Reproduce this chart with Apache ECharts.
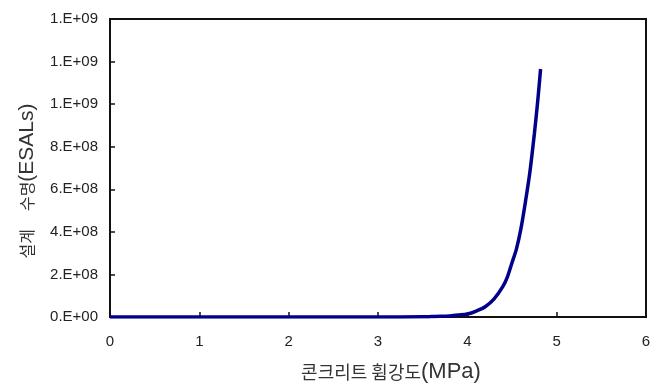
<!DOCTYPE html>
<html>
<head>
<meta charset="utf-8">
<script src="https://cdn.jsdelivr.net/npm/echarts@6/dist/echarts.min.js"></script>
<style>
  html, body { margin: 0; padding: 0; background: #fff; }
  #chart { width: 664px; height: 388px; }
</style>
</head>
<body>
<div id="chart"></div>
<script>
// Flexural strength of concrete (MPa)
const strength = [0, 0.5, 1, 1.5, 2, 2.5, 3, 3.5, 3.6, 3.7, 3.8, 3.9, 4.0, 4.1, 4.2, 4.3, 4.4, 4.45, 4.5, 4.55, 4.6, 4.65, 4.7, 4.75, 4.78, 4.8, 4.82];
// Design life (ESALs)
const designLife = [0, 0, 0, 0, 0, 0, 0, 1e6, 2e6, 3e6, 5e6, 9e6, 1.4e7, 2.8e7, 4.8e7, 8.5e7, 1.45e8, 1.9e8, 2.55e8, 3.2e8, 4.15e8, 5.4e8, 6.8e8, 8.6e8, 9.8e8, 1.07e9, 1.165e9];
// Y tick labels, in 0.E+00 style, one per 2E+08 step
const yTickLabels = ['0.E+00', '2.E+08', '4.E+08', '6.E+08', '8.E+08', '1.E+09', '1.E+09', '1.E+09'];
const xTickLabels = ['0', '1', '2', '3', '4', '5', '6'];

const chart = echarts.init(document.getElementById('chart'));
const latin = 'Liberation Sans, Arial, sans-serif';
const hangul = 'Noto Sans CJK KR, sans-serif';

chart.setOption({
  animation: false,
  grid: {
    left: 110, right: 18, top: 19, bottom: 70,
    show: true, borderColor: '#111', borderWidth: 2, backgroundColor: '#fff'
  },
  xAxis: {
    type: 'value', min: 0, max: 6, interval: 1,
    name: '{k|콘크리트 휨강도}{l|(MPa)}',
    nameLocation: 'middle', nameGap: 43,
    nameTextStyle: {
      color: '#333', padding: [0, 0, 0, 26],
      rich: {
        k: { fontSize: 18, lineHeight: 24, verticalAlign: 'middle', fontFamily: hangul, color: '#333' },
        l: { fontSize: 22, lineHeight: 24, verticalAlign: 'middle', fontFamily: latin, color: '#333' }
      }
    },
    axisLine: { show: true, lineStyle: { color: '#111', width: 2 } },
    axisTick: { show: true, inside: true, length: 5, lineStyle: { color: '#111', width: 1.5 } },
    axisLabel: {
      margin: 17, fontSize: 15, color: '#222', fontFamily: latin,
      formatter: v => xTickLabels[Math.round(v)]
    },
    splitLine: { show: false }
  },
  yAxis: {
    type: 'value', min: 0, max: 1.4e9, interval: 2e8,
    name: '{k|설계}{sp| }{k|수명}{l|(ESALs)}',
    nameLocation: 'middle', nameGap: 71,
    nameTextStyle: {
      color: '#333', padding: [0, 26, 0, 0],
      rich: {
        k: { fontSize: 16, lineHeight: 24, verticalAlign: 'middle', fontFamily: hangul, color: '#333' },
        sp: { fontSize: 16, lineHeight: 24, verticalAlign: 'middle', fontFamily: hangul, width: 18 },
        l: { fontSize: 21, lineHeight: 24, verticalAlign: 'middle', fontFamily: latin, color: '#333' }
      }
    },
    axisLine: { show: true, lineStyle: { color: '#111', width: 2 } },
    axisTick: { show: true, inside: true, length: 5, lineStyle: { color: '#111', width: 1.5 } },
    axisLabel: {
      margin: 12, fontSize: 15, color: '#222', fontFamily: latin,
      formatter: v => yTickLabels[Math.round(v / 2e8)]
    },
    splitLine: { show: false }
  },
  series: [{
    type: 'line',
    data: strength.map((s, i) => [s, designLife[i]]),
    smooth: 0.3,
    showSymbol: false,
    lineStyle: { color: '#00008b', width: 3.5 },
    z: 3
  }]
});
</script>
</body>
</html>
